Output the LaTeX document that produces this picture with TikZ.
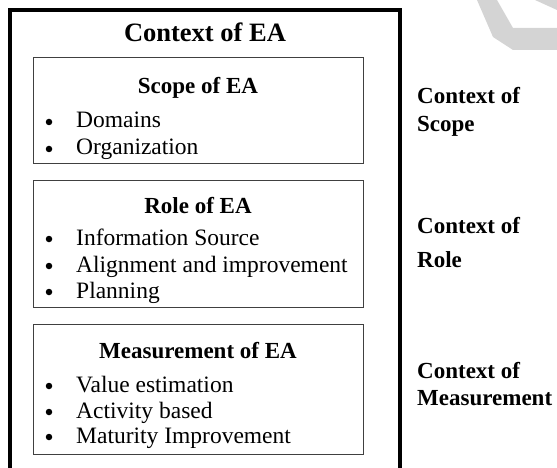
\documentclass[tikz,border=0pt]{standalone}
\usepackage{fontspec}
\setmainfont{Liberation Serif}
\usetikzlibrary{positioning}

\tikzset{
  outerframe/.style={line width=3.2pt,line cap=butt},
  innerbox/.style={draw=black!75,line width=1pt,minimum width=330pt,inner sep=0pt},
  titletext/.style={font=\fontsize{26.5}{30}\selectfont\bfseries,inner sep=0pt,anchor=base},
  headtext/.style={font=\fontsize{23}{27}\selectfont\bfseries,inner sep=0pt,anchor=base},
  itemtext/.style={font=\fontsize{23.5}{27}\selectfont,inner sep=0pt,anchor=base west},
  dotmark/.style={circle,fill=black,minimum size=6.5pt,inner sep=0pt},
  sidetext/.style={font=\fontsize{23}{27}\selectfont\bfseries,inner sep=0pt,anchor=base west},
  watermark/.style={fill=black!17,draw=none}
}

\begin{document}
\begin{tikzpicture}[x=1pt,y=-1pt]
\useasboundingbox (0,0) rectangle (557,468);

% faint mark in the corner
\fill[watermark] (477,0) -- (497,0) -- (513,28) -- (557,28) -- (557,50) -- (513,50) -- (493,37) -- cycle;
\fill[watermark] (535,0) -- (557,0) -- (557,10) -- cycle;

% outer frame, open at the bottom
\draw[outerframe] (10,472) -- (10,10) -- (400,10) -- (400,472);
\node[titletext] (ctxea) at (205,42) {Context of EA};

% scope
\node[innerbox,minimum height=106pt] (scopebox) at (198,111) {};
\node[headtext] (scopehead) at (198,94) {Scope of EA};
\node[dotmark] (sdot1) at (49,122) {};
\node[itemtext] (sitem1) at (76,128) {Domains};
\node[dotmark] (sdot2) at (49,149) {};
\node[itemtext] (sitem2) at (76,155) {Organization};

% role
\node[innerbox,minimum height=127pt] (rolebox) at (198,243.5) {};
\node[headtext] (rolehead) at (198,213) {Role of EA};
\node[dotmark] (rdot1) at (49,239) {};
\node[itemtext] (ritem1) at (76,245) {Information Source};
\node[dotmark] (rdot2) at (49,266) {};
\node[itemtext] (ritem2) at (76,272) {Alignment and improvement};
\node[dotmark] (rdot3) at (49,292) {};
\node[itemtext] (ritem3) at (76,298) {Planning};

% measurement
\node[innerbox,minimum height=130pt] (measbox) at (198,389) {};
\node[headtext] (meashead) at (198,358) {Measurement of EA};
\node[dotmark] (mdot1) at (49,386) {};
\node[itemtext] (mitem1) at (76,392) {Value estimation};
\node[dotmark] (mdot2) at (49,412) {};
\node[itemtext] (mitem2) at (76,418) {Activity based};
\node[dotmark] (mdot3) at (49,437) {};
\node[itemtext] (mitem3) at (76,443) {Maturity Improvement};

% labels on the right
\node[sidetext] (sscope1) at (417,104) {Context of};
\node[sidetext] (sscope2) at (417,132) {Scope};
\node[sidetext] (srole1) at (417,233) {Context of};
\node[sidetext] (srole2) at (417,267) {Role};
\node[sidetext] (smeas1) at (417,378) {Context of};
\node[sidetext] (smeas2) at (417,405) {Measurement};
\end{tikzpicture}
\end{document}
